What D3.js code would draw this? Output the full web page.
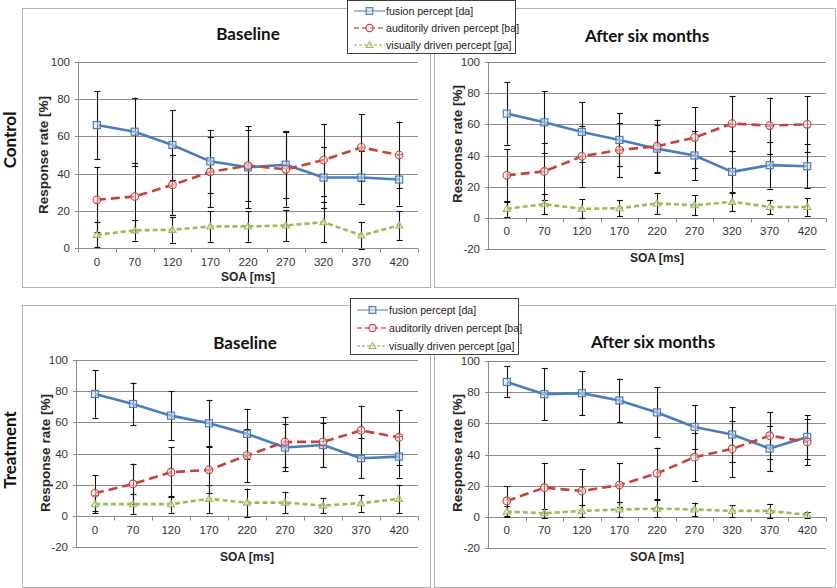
<!DOCTYPE html>
<html><head><meta charset="utf-8">
<script src="https://cdn.jsdelivr.net/npm/d3@7"></script>
<style>
html,body{margin:0;padding:0;background:#fff;}
svg{display:block;}
</style></head>
<body>
<svg id="chart" width="837" height="588"></svg>
<script>
// ---------- DATA ----------
const soaLabels = ["0","70","120","170","220","270","320","370","420"];
const seriesNames = ["fusion percept [da]","auditorily driven percept [ba]","visually driven percept [ga]"];
const rowLabels = ["Control","Treatment"];
const panelTitles = ["Baseline","After six months"];
const ticksNoNeg = [0,20,40,60,80,100];
const ticksNeg = [-20,0,20,40,60,80,100];

const ctrlBaseFusion   = [66.1, 62.5, 55.4, 46.6, 43.4, 44.8, 37.9, 37.9, 36.8];
const ctrlBaseFusionSD = [18.2, 18.4, 18.7, 17, 22, 18, 16.5, 14, 14];
const ctrlBaseAud      = [25.9, 27.7, 33.9, 40.9, 44.3, 42.3, 47.3, 54.1, 50.0];
const ctrlBaseAudSD    = [17.5, 17.8, 16, 19, 19, 20, 19.5, 18, 18];
const ctrlBaseVis      = [7.1, 9.5, 9.8, 11.6, 11.6, 12.1, 13.9, 6.8, 12.1];
const ctrlBaseVisSD    = [6.7, 5.5, 7, 8.2, 8.2, 8.5, 10.7, 7.3, 7.7];

const ctrlAfterFusion   = [66.9, 61.3, 55.1, 50.0, 44.4, 40.0, 29.5, 33.8, 33.1];
const ctrlAfterFusionSD = [20, 20, 19.3, 17, 15, 16, 13.5, 15, 14];
const ctrlAfterAud      = [27.3, 29.8, 39.5, 43.5, 46.0, 51.5, 60.5, 59.2, 60.0];
const ctrlAfterAudSD    = [17, 18.5, 19.5, 17.5, 17, 19.5, 17.5, 18, 18];
const ctrlAfterVis      = [5.8, 8.8, 5.8, 6.2, 9.2, 8.1, 10.3, 7.0, 7.0];
const ctrlAfterVisSD    = [5.2, 6.6, 6, 5, 6.8, 6.4, 6, 4.5, 5.7];

const treatBaseFusion   = [78.2, 71.8, 64.3, 59.4, 52.6, 43.8, 45.5, 37.0, 38.0];
const treatBaseFusionSD = [15.2, 13.7, 15.5, 15, 16, 15, 14, 13, 13.5];
const treatBaseAud      = [14.5, 20.5, 28.0, 29.5, 38.7, 47.4, 47.5, 54.8, 50.3];
const treatBaseAudSD    = [11.5, 13, 16, 15, 17, 16, 16, 16, 17.5];
const treatBaseVis      = [7.5, 7.5, 7.5, 10.9, 8.5, 8.5, 6.6, 8.1, 10.9];
const treatBaseVisSD    = [6, 6.6, 5.5, 9, 9, 7, 5, 5.5, 9];

const treatAfterFusion   = [86.6, 78.7, 79.4, 74.7, 67.0, 57.7, 52.8, 43.8, 51.3];
const treatAfterFusionSD = [10, 16.5, 14.3, 14, 16, 14, 17.6, 14.5, 14];
const treatAfterAud      = [10.2, 18.7, 16.6, 20.4, 27.9, 38.3, 43.6, 52.1, 48.1];
const treatAfterAudSD    = [9.5, 16, 14, 14, 16.5, 15.3, 18, 15, 15];
const treatAfterVis      = [3.4, 2.3, 3.8, 4.7, 5.3, 4.7, 3.8, 3.8, 1.3];
const treatAfterVisSD    = [3.4, 3, 4, 5, 5.5, 4.4, 3.8, 4.5, 1.9];

// ---------- STYLE ----------
const styles = [
  {color:"#4a7ebb", dash:null, marker:"square", fill:"#dce6f2"},
  {color:"#c8403c", dash:"9,5", marker:"circle", fill:"#fbe5e4"},
  {color:"#9bbb59", dash:"5,3", marker:"triangle", fill:"#eef4e2"}
];
const narrow = "'Liberation Sans Narrow','Arial Narrow','Liberation Sans',Arial,sans-serif";
const titleFont = "Lato,'Open Sans',Calibri,sans-serif";

const panels = [
  {title:panelTitles[0], frame:[22,8,430,287], px:[78,418], yDom:[0,100], yRange:[248,62], ticks:ticksNoNeg,
   titlePos:[248,40], ylab:[43,155], tickY:266, soaY:281,
   series:[[ctrlBaseFusion,ctrlBaseFusionSD],[ctrlBaseAud,ctrlBaseAudSD],[ctrlBaseVis,ctrlBaseVisSD]]},
  {title:panelTitles[1], frame:[434,8,835,287], px:[488,826], yDom:[-20,100], yRange:[249,62], ticks:ticksNeg,
   titlePos:[647,42], ylab:[457,144], tickY:235, soaY:262,
   series:[[ctrlAfterFusion,ctrlAfterFusionSD],[ctrlAfterAud,ctrlAfterAudSD],[ctrlAfterVis,ctrlAfterVisSD]]},
  {title:panelTitles[0], frame:[22,305,430,587], px:[76,418], yDom:[-20,100], yRange:[547,360], ticks:ticksNeg,
   titlePos:[245,349], ylab:[45,453], tickY:534, soaY:561,
   series:[[treatBaseFusion,treatBaseFusionSD],[treatBaseAud,treatBaseAudSD],[treatBaseVis,treatBaseVisSD]]},
  {title:panelTitles[1], frame:[434,305,835,587], px:[488,826], yDom:[-20,100], yRange:[548,361], ticks:ticksNeg,
   titlePos:[653,348], ylab:[457,453], tickY:534, soaY:561,
   series:[[treatAfterFusion,treatAfterFusionSD],[treatAfterAud,treatAfterAudSD],[treatAfterVis,treatAfterVisSD]]}
];

const svg = d3.select("#chart");

panels.forEach(p => {
  const g = svg.append("g");
  const [fx0,fy0,fx1,fy1] = p.frame;
  g.append("rect").attr("x",fx0+0.5).attr("y",fy0+0.5).attr("width",fx1-fx0).attr("height",fy1-fy0)
    .attr("fill","#fff").attr("stroke","#b4b4b4").attr("stroke-width",1);

  const x = d3.scaleBand().domain(soaLabels).range(p.px);
  const y = d3.scaleLinear().domain(p.yDom).range(p.yRange);
  const y0 = Math.round(y(0))+0.5;

  // gridlines
  g.append("g").selectAll("line").data(p.ticks).join("line")
    .attr("x1",p.px[0]-3).attr("x2",p.px[1]).attr("y1",d=>Math.round(y(d))+0.5).attr("y2",d=>Math.round(y(d))+0.5)
    .attr("stroke","#8c8c8c").attr("stroke-width",1);
  // y axis line
  g.append("line").attr("x1",p.px[0]+0.5).attr("x2",p.px[0]+0.5).attr("y1",y(p.yDom[1])).attr("y2",y(p.yDom[0]))
    .attr("stroke","#8c8c8c");
  // y tick labels
  g.append("g").selectAll("text").data(p.ticks).join("text")
    .attr("x",p.px[0]-8).attr("y",d=>y(d)+4).attr("text-anchor","end")
    .attr("font-family",narrow).attr("font-size",11.5).attr("fill","#333").text(d=>d);
  // x axis line at 0
  g.append("line").attr("x1",p.px[0]).attr("x2",p.px[1]).attr("y1",y0).attr("y2",y0).attr("stroke","#8c8c8c");
  // x ticks between categories
  const bounds = soaLabels.map(s=>x(s)).concat([p.px[1]]);
  g.append("g").selectAll("line").data(bounds).join("line")
    .attr("x1",d=>Math.round(d)+0.5).attr("x2",d=>Math.round(d)+0.5).attr("y1",y0).attr("y2",y0+4)
    .attr("stroke","#8c8c8c");
  g.append("g").selectAll("text").data(soaLabels).join("text")
    .attr("x",d=>x(d)+x.bandwidth()/2).attr("y",p.tickY).attr("text-anchor","middle")
    .attr("font-family",narrow).attr("font-size",11.5).attr("fill","#333").text(d=>d);
  // axis titles
  g.append("text").attr("x",(p.px[0]+p.px[1])/2).attr("y",p.soaY).attr("text-anchor","middle")
    .attr("font-family",narrow).attr("font-weight","bold").attr("font-size",12).attr("fill","#262626").text("SOA [ms]");
  g.append("text").attr("transform",`translate(${p.ylab[0]},${p.ylab[1]}) rotate(-90)`).attr("text-anchor","middle")
    .attr("dy","0.35em")
    .attr("font-family",narrow).attr("font-weight","bold").attr("font-size",13.5).attr("fill","#262626").text("Response rate [%]");
  // title
  g.append("text").attr("x",p.titlePos[0]).attr("y",p.titlePos[1]).attr("text-anchor","middle")
    .attr("font-family",titleFont).attr("font-weight","bold").attr("font-size",17).attr("fill","#111").text(p.title);

  const cx = s => x(s)+x.bandwidth()/2;
  // error bars
  p.series.forEach((ser,si)=>{
    const [vals,sds] = ser;
    const data = soaLabels.map((s,i)=>({s,v:vals[i],sd:sds[i]}));
    const eb = g.append("g").attr("stroke","#111").attr("stroke-width",1.1);
    eb.selectAll("line.v").data(data).join("line").attr("class","v")
      .attr("x1",d=>Math.round(cx(d.s))+0.5).attr("x2",d=>Math.round(cx(d.s))+0.5)
      .attr("y1",d=>y(Math.min(d.v+d.sd,p.yDom[1]+2))).attr("y2",d=>y(Math.max(d.v-d.sd,p.yDom[0])));
    [1,-1].forEach(sg=>{
      eb.selectAll("line.c"+(sg>0?"t":"b")).data(data).join("line").attr("class","c"+(sg>0?"t":"b"))
        .attr("x1",d=>cx(d.s)-2.5).attr("x2",d=>cx(d.s)+3.5)
        .attr("y1",d=>Math.round(y(d.v+sg*d.sd))+0.5).attr("y2",d=>Math.round(y(d.v+sg*d.sd))+0.5);
    });
  });
  // lines
  p.series.forEach((ser,si)=>{
    const [vals] = ser;
    const st = styles[si];
    const data = soaLabels.map((s,i)=>({s,v:vals[i]}));
    const line = d3.line().x(d=>cx(d.s)).y(d=>y(d.v));
    g.append("path").attr("d",line(data)).attr("fill","none").attr("stroke",st.color)
      .attr("stroke-width",2.6).attr("stroke-dasharray",st.dash).attr("stroke-linejoin","round");
  });
  // markers
  p.series.forEach((ser,si)=>{
    const [vals] = ser;
    const st = styles[si];
    const data = soaLabels.map((s,i)=>({s,v:vals[i]}));
    drawMarkers(g.append("g"), data.map(d=>[cx(d.s),y(d.v)]), st, 1);
  });
});

function drawMarkers(sel, pts, st, scale){
  const size = 7*scale;
  if(st.marker==="square"){
    sel.selectAll("rect").data(pts).join("rect")
      .attr("x",d=>d[0]-size/2).attr("y",d=>d[1]-size/2).attr("width",size).attr("height",size)
      .attr("fill",st.fill).attr("fill-opacity",0.5).attr("stroke",st.color).attr("stroke-width",1.2);
  } else if(st.marker==="circle"){
    sel.selectAll("circle").data(pts).join("circle")
      .attr("cx",d=>d[0]).attr("cy",d=>d[1]).attr("r",size/2+0.3)
      .attr("fill",st.fill).attr("fill-opacity",0.5).attr("stroke",st.color).attr("stroke-width",1.1);
  } else {
    const sym = d3.symbol().type(d3.symbolTriangle).size(22*scale*scale);
    sel.selectAll("path").data(pts).join("path")
      .attr("transform",d=>`translate(${d[0]},${d[1]+0.5})`).attr("d",sym)
      .attr("fill",st.fill).attr("fill-opacity",0.5).attr("stroke",st.color).attr("stroke-width",1.1);
  }
}

// legends
const legends = [{x:347,y:0,w:168,h:53,rows:[11,28,45]},{x:350,y:298,w:168,h:56,rows:[310,328,346]}];
legends.forEach(L=>{
  const g = svg.append("g");
  g.append("rect").attr("x",L.x+0.5).attr("y",L.y+0.5).attr("width",L.w).attr("height",L.h)
    .attr("fill","#fff").attr("stroke","#404040").attr("stroke-width",1);
  seriesNames.forEach((nm,i)=>{
    const st = styles[i];
    const ry = L.rows[i];
    g.append("line").attr("x1",L.x+7).attr("x2",L.x+38).attr("y1",ry).attr("y2",ry)
      .attr("stroke",st.color).attr("stroke-width",1.3).attr("stroke-dasharray",st.dash?(i===1?"5,3":"3,2"):null)
      .attr("opacity",0.8);
    drawMarkers(g.append("g"), [[L.x+22.5,ry]], st, 0.95);
    g.append("text").attr("x",L.x+39).attr("y",ry+4).attr("font-family","'Liberation Sans',Arial,sans-serif")
      .attr("font-size",10.6).attr("fill","#222").text(nm);
  });
});

// row labels
[[rowLabels[0],140],[rowLabels[1],450]].forEach(([t,cy])=>{
  svg.append("text").attr("transform",`translate(16,${cy}) rotate(-90)`).attr("text-anchor","middle")
    .attr("font-family",titleFont).attr("font-weight","bold").attr("font-size",17).attr("fill","#111").text(t);
});
</script>
</body></html>
